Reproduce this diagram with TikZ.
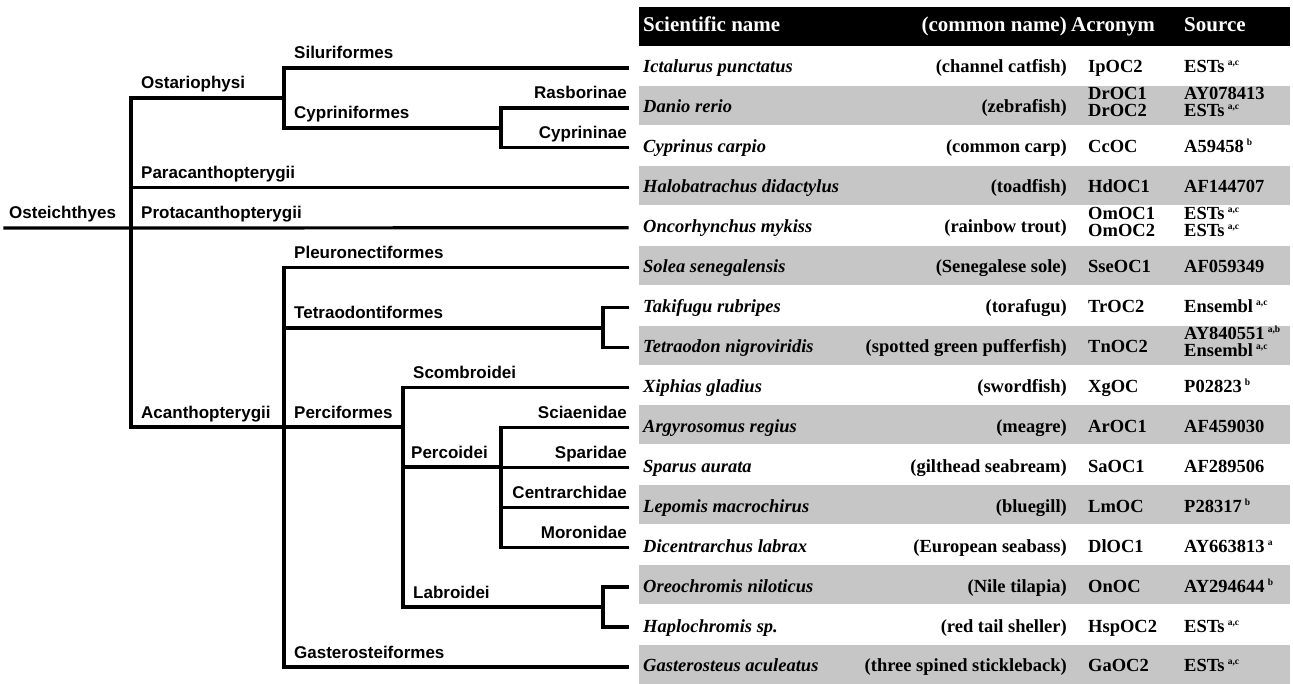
\documentclass[tikz,border=0pt]{standalone}
\usepackage{fontspec}
\setmainfont{Liberation Serif}
\newfontfamily\treefont{Liberation Sans}
\definecolor{rowgray}{RGB}{198,198,198}
\newcommand\mysup[1]{\,\raisebox{7pt}{\fontsize{9.5}{9.5}\selectfont #1}}
\newcommand\ry[1]{(68+39.93*#1)}
\begin{document}
\begin{tikzpicture}[x=1pt,y=-1pt,
  tree/.style={line width=3.2pt,line cap=rect,line join=miter},
  lab/.style={font=\treefont\bfseries\fontsize{17}{17}\selectfont,inner sep=0pt},
  hdr/.style={font=\bfseries\fontsize{21}{21}\selectfont,text=white,inner sep=0pt},
  cell/.style={font=\bfseries\fontsize{18.5}{18.5}\selectfont,inner sep=0pt},
  sci/.style={font=\bfseries\itshape\fontsize{18.5}{18.5}\selectfont,inner sep=0pt,anchor=base west}]
\useasboundingbox (0,0) rectangle (1293,684);
% gray bands
\foreach \i in {1,3,...,15} \fill[rowgray] (639,{\ry{\i}-22}) rectangle (1290,{\ry{\i}+17});
% header
\fill[black] (639,7) rectangle (1290,46);
\node[hdr,anchor=base west] (hsci) at (643,32) {Scientific name};
\node[hdr,anchor=base east] (hcom) at (1067,32) {(common name)};
\node[hdr,anchor=base west] (hacr) at (1071,32) {Acronym};
\node[hdr,anchor=base west] (hsrc) at (1184,32) {Source};
% tree coordinates
\coordinate (S) at (5,228);
\coordinate (R) at (131,228);
\coordinate (O) at (284,98);
\coordinate (C) at (501,128);
\coordinate (A) at (284,427);
\coordinate (T) at (603,328);
\coordinate (P) at (403,427);
\coordinate (Pc) at (501,467);
\coordinate (Lb) at (603,607);
\foreach \i in {0,...,15} \coordinate (L\i) at (627,{\ry{\i}});
% tree edges
\draw[tree] (S) -- (R) -- (L4);
\draw[tree] (R) |- (O);
\draw[tree] (O) |- (L0);
\draw[tree] (O) |- (C);
\draw[tree] (C) |- (L1);
\draw[tree] (C) |- (L2);
\draw[tree] (R) |- (L3);
\draw[tree] (R) |- (A);
\draw[tree] (A) |- (L5);
\draw[tree] (A) |- (T);
\draw[tree] (T) |- (L6);
\draw[tree] (T) |- (L7);
\draw[tree] (A) -- (P);
\draw[tree] (P) |- (L8);
\draw[tree] (P) |- (Pc);
\draw[tree] (Pc) |- (L9);
\draw[tree] (Pc) |- (L10);
\draw[tree] (Pc) |- (L11);
\draw[tree] (Pc) |- (L12);
\draw[tree] (P) |- (Lb);
\draw[tree] (Lb) |- (L13);
\draw[tree] (Lb) |- (L14);
\draw[tree] (A) |- (L15);
% tree labels
\node[lab,anchor=base west] (nOst) at (9,219) {Osteichthyes};
\node[lab,anchor=base west] (nOsa) at (141,89) {Ostariophysi};
\node[lab,anchor=base west] (nSil) at (294,59) {Siluriformes};
\node[lab,anchor=base west] (nCyf) at (294,119) {Cypriniformes};
\node[lab,anchor=base east] (nRas) at (627,99) {Rasborinae};
\node[lab,anchor=base east] (nCyn) at (627,139) {Cyprininae};
\node[lab,anchor=base west] (nPar) at (141,179) {Paracanthopterygii};
\node[lab,anchor=base west] (nPro) at (141,219) {Protacanthopterygii};
\node[lab,anchor=base west] (nPle) at (294,259) {Pleuronectiformes};
\node[lab,anchor=base west] (nTet) at (294,319) {Tetraodontiformes};
\node[lab,anchor=base west] (nAca) at (141,418) {Acanthopterygii};
\node[lab,anchor=base west] (nPer) at (294,418) {Perciformes};
\node[lab,anchor=base west] (nSco) at (413,378) {Scombroidei};
\node[lab,anchor=base east] (nSci) at (627,418) {Sciaenidae};
\node[lab,anchor=base west] (nPco) at (411,458) {Percoidei};
\node[lab,anchor=base east] (nSpa) at (627,458) {Sparidae};
\node[lab,anchor=base east] (nCen) at (627,498) {Centrarchidae};
\node[lab,anchor=base east] (nMor) at (627,538) {Moronidae};
\node[lab,anchor=base west] (nLab) at (413,598) {Labroidei};
\node[lab,anchor=base west] (nGas) at (294,658) {Gasterosteiformes};
% table rows
\newcommand\sname[2]{\node[sci] (sci#1) at (643,{\ry{#1}+5}) {#2};}
\newcommand\cname[2]{\node[cell,anchor=base east] (com#1) at (1067,{\ry{#1}+5}) {#2};}
\newcommand\aname[3]{\node[cell,anchor=base west] (acr#1) at (1088,{\ry{#1}+#2}) {#3};}
\newcommand\srcname[3]{\node[cell,anchor=base west] (src#1) at (1184,{\ry{#1}+#2}) {#3};}
\sname{0}{Ictalurus punctatus}\cname{0}{(channel catfish)}\aname{0}{5}{IpOC2}\srcname{0}{5}{ESTs\mysup{a,c}}
\sname{1}{Danio rerio}\cname{1}{(zebrafish)}\aname{1}{-8}{DrOC1}
\node[cell,anchor=base west] (acr1b) at (1088,{\ry{1}+9}) {DrOC2};
\srcname{1}{-8}{AY078413}
\node[cell,anchor=base west] (src1b) at (1184,{\ry{1}+9}) {ESTs\mysup{a,c}};
\sname{2}{Cyprinus carpio}\cname{2}{(common carp)}\aname{2}{5}{CcOC}\srcname{2}{5}{A59458\mysup{b}}
\sname{3}{Halobatrachus didactylus}\cname{3}{(toadfish)}\aname{3}{5}{HdOC1}\srcname{3}{5}{AF144707}
\sname{4}{Oncorhynchus mykiss}\cname{4}{(rainbow trout)}\aname{4}{-8}{OmOC1}
\node[cell,anchor=base west] (acr4b) at (1088,{\ry{4}+9}) {OmOC2};
\srcname{4}{-8}{ESTs\mysup{a,c}}
\node[cell,anchor=base west] (src4b) at (1184,{\ry{4}+9}) {ESTs\mysup{a,c}};
\sname{5}{Solea senegalensis}\cname{5}{(Senegalese sole)}\aname{5}{5}{SseOC1}\srcname{5}{5}{AF059349}
\sname{6}{Takifugu rubripes}\cname{6}{(torafugu)}\aname{6}{5}{TrOC2}\srcname{6}{5}{Ensembl\mysup{a,c}}
\sname{7}{Tetraodon nigroviridis}\cname{7}{(spotted green pufferfish)}\aname{7}{5}{TnOC2}\srcname{7}{-8}{AY840551\mysup{a,b}}
\node[cell,anchor=base west] (src7b) at (1184,{\ry{7}+9}) {Ensembl\mysup{a,c}};
\sname{8}{Xiphias gladius}\cname{8}{(swordfish)}\aname{8}{5}{XgOC}\srcname{8}{5}{P02823\mysup{b}}
\sname{9}{Argyrosomus regius}\cname{9}{(meagre)}\aname{9}{5}{ArOC1}\srcname{9}{5}{AF459030}
\sname{10}{Sparus aurata}\cname{10}{(gilthead seabream)}\aname{10}{5}{SaOC1}\srcname{10}{5}{AF289506}
\sname{11}{Lepomis macrochirus}\cname{11}{(bluegill)}\aname{11}{5}{LmOC}\srcname{11}{5}{P28317\mysup{b}}
\sname{12}{Dicentrarchus labrax}\cname{12}{(European seabass)}\aname{12}{5}{DlOC1}\srcname{12}{5}{AY663813\mysup{a}}
\sname{13}{Oreochromis niloticus}\cname{13}{(Nile tilapia)}\aname{13}{5}{OnOC}\srcname{13}{5}{AY294644\mysup{b}}
\sname{14}{Haplochromis sp.}\cname{14}{(red tail sheller)}\aname{14}{5}{HspOC2}\srcname{14}{5}{ESTs\mysup{a,c}}
\sname{15}{Gasterosteus aculeatus}\cname{15}{(three spined stickleback)}\aname{15}{5}{GaOC2}\srcname{15}{5}{ESTs\mysup{a,c}}
\end{tikzpicture}
\end{document}
